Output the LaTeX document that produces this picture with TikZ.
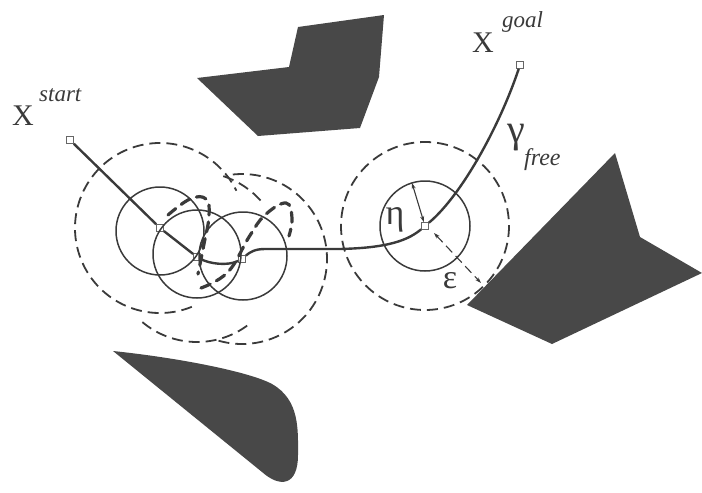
\documentclass[tikz,border=0pt]{standalone}
\usepackage{fontspec}
\setmainfont{Liberation Serif}
\usetikzlibrary{arrows.meta}
\definecolor{obstgray}{RGB}{72,72,72}
\definecolor{linegray}{RGB}{58,58,58}

\begin{document}
\begin{tikzpicture}[x=1pt, y=-1pt,
  sample/.style={draw=gray!80!black, fill=white, minimum size=7pt, inner sep=0pt, line width=0.8pt},
  trajectory/.style={draw=linegray, line width=2.4pt},
  etacirc/.style={draw=linegray, line width=1.5pt},
  epscirc/.style={draw=linegray, line width=1.8pt, dash pattern=on 11pt off 6pt},
  boldarc/.style={draw=linegray, line width=3.2pt, dash pattern=on 10pt off 7pt, line cap=round},
  obstacle/.style={fill=obstgray},
  measure/.style={draw=linegray, line width=1.1pt},
  lbl/.style={inner sep=0pt, text=linegray},
]

\useasboundingbox (0,0) rectangle (702,493);

% Samples
\node[sample] (start) at (70,140)  {};
\node[sample] (n1)    at (160,228) {};
\node[sample] (n2)    at (197,257) {};
\node[sample] (n3)    at (242,259) {};
\node[sample] (ng)    at (425,226) {};
\node[sample] (goal)  at (520,65)  {};

% eta circles
\draw[etacirc] (160,231) circle[radius=44];
\draw[etacirc] (197,254) circle[radius=44];
\draw[etacirc] (243,256) circle[radius=44];
\draw[etacirc] (ng.center) circle[radius=45];

% epsilon circles
\draw[epscirc] (n1.center) ++(68:85) arc[start angle=68, end angle=334, radius=85];
\draw[epscirc] (n2.center) ++(130:85) arc[start angle=130, end angle=50, radius=85];
\draw[epscirc] (n2.center) ++(-72:85) arc[start angle=-72, end angle=-40, radius=85];
\draw[epscirc] (n3.center) ++(106:85) arc[start angle=106, end angle=-101, radius=85];
\draw[epscirc] (ng.center) circle[radius=84];

% bold arcs
\draw[boldarc] plot[smooth, tension=0.7] coordinates {(168,215) (190,199) (206,199) (209,216) (204,244) (198,274)};
\draw[boldarc] plot[smooth, tension=0.7] coordinates {(201,288) (228,272) (249,237) (265,215) (286,203) (292,218) (289,236)};

% Free path
\draw[trajectory] (start) -- (n1) -- (n2);
\draw[trajectory] (n2) .. controls (210,264) and (228,266) .. (n3);
\draw[trajectory] (n3) .. controls (250,252) and (255,249) .. (265,249) -- (340,249)
  .. controls (380,248) and (405,243) .. (ng);
\draw[trajectory] (ng) .. controls (462,195) and (500,125) .. (goal);

% eta and epsilon
\coordinate (etatop) at (412,183);
\coordinate (epsa) at (434,233);
\coordinate (epsb) at (481,283);
\draw[measure, {Stealth[length=6pt,width=4pt]}-{Stealth[length=6pt,width=4pt]}] (etatop) -- (ng);
\draw[measure, dash pattern=on 9pt off 5pt, {Stealth[length=6pt,width=4pt]}-{Stealth[length=6pt,width=4pt]}] (epsa) -- (epsb);

% Obstacles
\fill[obstacle] (197,78) -- (289,67) -- (298,27) -- (384,15) -- (379,77) -- (360,128) -- (258,136) -- cycle;
\fill[obstacle] (615,153) -- (640,237) -- (702,273) -- (552,344) -- (467,305) -- cycle;
\fill[obstacle] (113,351) .. controls (180,358) and (250,372) .. (272,384)
  .. controls (300,400) and (298,430) .. (298,455)
  .. controls (298,486) and (280,488) .. (262,472) -- cycle;

% Labels
\node[lbl, anchor=base west] (xs)   at (12,125)  {\fontsize{30}{30}\selectfont X};
\node[lbl, anchor=base west] (xss)  at (39,101)  {\fontsize{23}{23}\selectfont\itshape start};
\node[lbl, anchor=base west] (xg)   at (472,52)  {\fontsize{30}{30}\selectfont X};
\node[lbl, anchor=base west] (xgs)  at (502,27)  {\fontsize{23}{23}\selectfont\itshape goal};
\node[lbl, anchor=base west] (gam)  at (507,142) {\fontsize{40}{40}\selectfont γ};
\node[lbl, anchor=base west] (gams) at (524,165) {\fontsize{24}{24}\selectfont\itshape free};
\node[lbl, anchor=base] (eta) at (395,224) {\fontsize{36}{36}\selectfont η};
\node[lbl, anchor=base] (eps) at (450,288) {\fontsize{34}{34}\selectfont ε};

\end{tikzpicture}
\end{document}
